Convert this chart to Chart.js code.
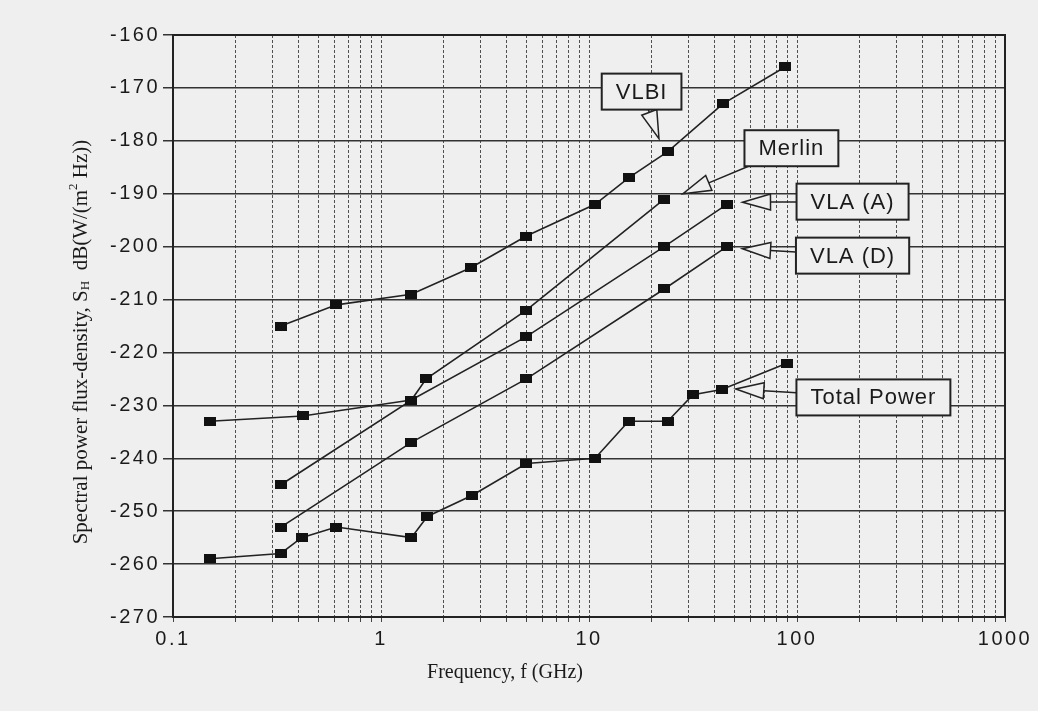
<!DOCTYPE html>
<html><head><meta charset="utf-8">
<script src="https://cdn.jsdelivr.net/npm/chart.js@4.4.1/dist/chart.umd.min.js"></script>
<style>html,body{margin:0;padding:0;background:#efefef;}canvas{display:block;}</style>
</head><body>
<canvas id="c" width="1038" height="711"></canvas>
<script>
// ---- data ----
const vlbiFreq   = [0.33, 0.61, 1.4, 2.7, 5, 10.7, 15.5, 24, 44, 88];
const vlbiS      = [-215, -211, -209, -204, -198, -192, -187, -182, -173, -166];
const merlinFreq = [0.33, 1.4, 1.65, 5, 23];
const merlinS    = [-245, -229, -225, -212, -191];
const vlaAFreq   = [0.15, 0.42, 1.4, 5, 23, 46];
const vlaAS      = [-233, -232, -229, -217, -200, -192];
const vlaDFreq   = [0.33, 1.4, 5, 23, 46];
const vlaDS      = [-253, -237, -225, -208, -200];
const tpFreq     = [0.15, 0.33, 0.415, 0.61, 1.4, 1.67, 2.75, 5, 10.7, 15.5, 23.9, 31.6, 43.5, 90];
const tpS        = [-259, -258, -255, -253, -255, -251, -247, -241, -240, -233, -233, -228, -227, -222];
const xMajorLabels = [0.1, 1, 10, 100, 1000];
const yMin = -270, yMax = -160, yStep = 10;
const xTitle = 'Frequency, f (GHz)';
// callout labels: text, arrow tip and box centre in data units
const callouts = [
  {text:'VLBI',        tipX:21.7, tipY:-179.6, boxX:17.9, boxY:-170.7},
  {text:'Merlin',      tipX:28.3, tipY:-190.0, boxX:94,   boxY:-181.4},
  {text:'VLA (A)',     tipX:54.7, tipY:-191.6, boxX:185,  boxY:-191.5},
  {text:'VLA (D)',     tipX:54.7, tipY:-200.4, boxX:185,  boxY:-201.7},
  {text:'Total Power', tipX:50.8, tipY:-226.9, boxX:233,  boxY:-228.5}
];

const BG = '#efefef';
const INK = '#1a1a1a';

function makeMarker(){
  const c = document.createElement('canvas'); c.width = 12; c.height = 9;
  const g = c.getContext('2d'); g.fillStyle = '#111'; g.fillRect(0,0,12,9);
  return c;
}
const marker = makeMarker();

function ds(label, xs, ys){
  return {
    label, data: xs.map((x,i)=>({x, y: ys[i]})),
    borderColor:'#222', borderWidth:1.6, backgroundColor:'#111',
    pointStyle: marker, pointRadius:6, pointHoverRadius:6,
    fill:false, tension:0
  };
}

const decor = {
  id:'decor',
  beforeUpdate(chart){ chart.ctx.letterSpacing = '2.5px'; },
  beforeDraw(chart){
    const ctx = chart.ctx;
    ctx.save(); ctx.letterSpacing='0px';
    ctx.fillStyle = BG; ctx.fillRect(0,0,chart.width,chart.height);
    ctx.restore();
    ctx.letterSpacing = '2.5px';
  },
  beforeDatasetsDraw(chart){
    const ctx = chart.ctx, a = chart.chartArea;
    ctx.save();
    ctx.strokeStyle = '#222'; ctx.lineWidth = 2; ctx.setLineDash([]);
    ctx.strokeRect(a.left, a.top, a.right-a.left, a.bottom-a.top);
    ctx.restore();
  },
  afterDatasetsDraw(chart){
    const ctx = chart.ctx, xs = chart.scales.x, ys = chart.scales.y;
    ctx.save();
    ctx.font = '22px "Liberation Sans", Arial, sans-serif';
    ctx.letterSpacing = '1px';
    ctx.setLineDash([]);
    for (const c of callouts){
      const tx = xs.getPixelForValue(c.tipX), ty = ys.getPixelForValue(c.tipY);
      const bx = xs.getPixelForValue(c.boxX), by = ys.getPixelForValue(c.boxY);
      const tw = ctx.measureText(c.text).width;
      const w = tw + 28, h = 36;
      const dx = tx-bx, dy = ty-by;
      const t = Math.min((w/2)/Math.max(Math.abs(dx),1e-6), (h/2)/Math.max(Math.abs(dy),1e-6));
      const ax = bx+dx*t, ay = by+dy*t;
      const L = Math.hypot(ax-tx, ay-ty);
      const ux = (ax-tx)/L, uy = (ay-ty)/L;
      const len = Math.min(28, L), hw = 8;
      const cx = tx+ux*len, cy = ty+uy*len;
      ctx.strokeStyle = '#222'; ctx.lineWidth = 1.5;
      ctx.beginPath(); ctx.moveTo(cx,cy); ctx.lineTo(ax,ay); ctx.stroke();
      ctx.beginPath();
      ctx.moveTo(tx,ty);
      ctx.lineTo(cx - uy*hw, cy + ux*hw);
      ctx.lineTo(cx + uy*hw, cy - ux*hw);
      ctx.closePath();
      ctx.fillStyle = BG; ctx.fill(); ctx.stroke();
      ctx.fillStyle = BG;
      ctx.fillRect(bx-w/2, by-h/2, w, h);
      ctx.lineWidth = 2;
      ctx.strokeRect(bx-w/2, by-h/2, w, h);
      ctx.fillStyle = INK; ctx.textAlign = 'center'; ctx.textBaseline = 'middle';
      ctx.fillText(c.text, bx, by+1);
    }
    ctx.restore();
  },
  afterDraw(chart){
    const ctx = chart.ctx;
    ctx.save();
    ctx.letterSpacing = '0px';
    ctx.fillStyle = INK;
    ctx.textBaseline = 'middle';
    // x-axis title
    ctx.font = '20px "Liberation Serif", "Times New Roman", serif';
    ctx.textAlign = 'center';
    ctx.fillText(xTitle, 505, 673);
    // y-axis title (rotated, with sub/superscripts)
    const parts = [
      {t:'Spectral power flux-density, S', s:21, dy:0},
      {t:'H', s:13, dy:5},
      {t:'  dB(W/(m', s:21, dy:0},
      {t:'2', s:13, dy:-7},
      {t:' Hz))', s:21, dy:0}
    ];
    let total = 0;
    for (const p of parts){ ctx.font = p.s+'px "Liberation Serif", serif'; p.w = ctx.measureText(p.t).width; total += p.w; }
    ctx.translate(81, 342); ctx.rotate(-Math.PI/2);
    ctx.textAlign = 'left';
    let x = -total/2;
    for (const p of parts){ ctx.font = p.s+'px "Liberation Serif", serif'; ctx.fillText(p.t, x, p.dy); x += p.w; }
    ctx.restore();
  }
};

new Chart(document.getElementById('c'), {
  type:'line',
  data:{ datasets:[
    ds('VLBI', vlbiFreq, vlbiS),
    ds('Merlin', merlinFreq, merlinS),
    ds('VLA (A)', vlaAFreq, vlaAS),
    ds('VLA (D)', vlaDFreq, vlaDS),
    ds('Total Power', tpFreq, tpS)
  ]},
  options:{
    responsive:false, animation:false, devicePixelRatio:1,
    layout:{ padding:{left:0, right:33, top:35, bottom:0} },
    plugins:{ legend:{display:false}, tooltip:{enabled:false} },
    scales:{
      x:{
        type:'logarithmic', min:0.1, max:1000,
        afterBuildTicks(s){
          const t = [];
          for (let e=-1; e<3; e++) for (let m=1; m<10; m++) t.push({value: +(m*Math.pow(10,e)).toPrecision(3)});
          t.push({value:1000});
          s.ticks = t;
        },
        afterFit(s){ s.height = 94; },
        ticks:{
          autoSkip:false, maxRotation:0, minRotation:0, padding:5, color:INK,
          font:{family:'"Liberation Sans", Arial, sans-serif', size:20},
          callback:(v)=> xMajorLabels.includes(v) ? String(v) : ''
        },
        grid:{ color:'#505050', lineWidth:1, tickLength:5, tickColor:'#444', tickWidth:1 },
        border:{ display:false, dash:[3,2] }
      },
      y:{
        type:'linear', min:yMin, max:yMax,
        afterFit(s){ s.width = 173; },
        ticks:{ stepSize:yStep, padding:3, color:INK,
          font:{family:'"Liberation Sans", Arial, sans-serif', size:20},
          callback:(v)=> String(v) },
        grid:{ color:'#333', lineWidth:1.5, tickLength:10, tickColor:'#333' },
        border:{ display:false }
      }
    }
  },
  plugins:[decor]
});
</script>
</body></html>
